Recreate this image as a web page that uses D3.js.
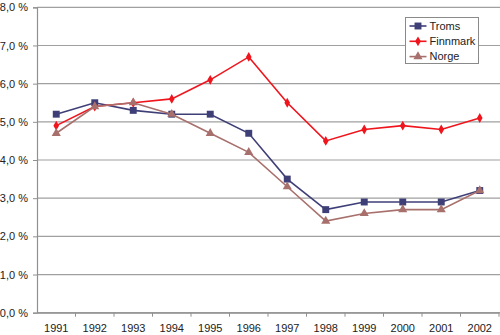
<!DOCTYPE html>
<html>
<head>
<meta charset="utf-8">
<script src="https://cdn.jsdelivr.net/npm/d3@7"></script>
<style>
  html, body { margin: 0; padding: 0; background: #fff; }
  svg { display: block; font-family: "Liberation Sans", Arial, sans-serif; }
</style>
</head>
<body>
<svg id="chart" width="500" height="335"></svg>
<script>
// Unemployment rate, 1991–2002
const years = ["1991","1992","1993","1994","1995","1996","1997","1998","1999","2000","2001","2002"];
const troms    = [5.2, 5.5, 5.3, 5.2, 5.2, 4.7, 3.5, 2.7, 2.9, 2.9, 2.9, 3.2];
const finnmark = [4.9, 5.4, 5.5, 5.6, 6.1, 6.7, 5.5, 4.5, 4.8, 4.9, 4.8, 5.1];
const norge    = [4.7, 5.4, 5.5, 5.2, 4.7, 4.2, 3.3, 2.4, 2.6, 2.7, 2.7, 3.2];
const yTicks   = [0, 1, 2, 3, 4, 5, 6, 7, 8];
const seriesNames = ["Troms", "Finnmark", "Norge"];

const series = [
  { name: seriesNames[0], values: troms,    color: "#3f3f78", symbol: d3.symbolSquare,   size: 48 },
  { name: seriesNames[1], values: finnmark, color: "#f0141c", symbol: d3.symbolDiamond,  size: 28 },
  { name: seriesNames[2], values: norge,    color: "#a8706c", symbol: d3.symbolTriangle, size: 36 }
];

const svg = d3.select("#chart");
const plot = { left: 37, right: 499, top: 7.3, bottom: 312.7 };

const x = d3.scaleBand().domain(years).range([plot.left, plot.right]);
const y = d3.scaleLinear().domain([0, 8]).range([plot.bottom, plot.top]);
const fmt = v => d3.format(".1f")(v).replace(".", ",") + " %";

// horizontal gridlines
svg.append("g")
  .selectAll("line")
  .data(yTicks)
  .join("line")
  .attr("x1", plot.left).attr("x2", plot.right + 1)
  .attr("y1", d => y(d)).attr("y2", d => y(d))
  .attr("stroke", "#a0a0a0").attr("stroke-width", 1.2);

// y axis
const yAxis = svg.append("g")
  .attr("transform", `translate(${plot.left},0)`)
  .call(d3.axisLeft(y).tickValues(yTicks).tickFormat(fmt).tickSize(4).tickPadding(5));
yAxis.select(".domain").attr("stroke", "#909090").attr("stroke-width", 1.2);
yAxis.selectAll(".tick line").attr("stroke", "#909090");
yAxis.selectAll("text").attr("font-size", 11).attr("fill", "#222")
  .attr("font-family", "Liberation Sans, Arial, sans-serif");

// x axis with ticks at category boundaries
const xAxis = svg.append("g")
  .attr("transform", `translate(0,${plot.bottom})`)
  .call(d3.axisBottom(x).tickSize(0).tickPadding(12));
xAxis.select(".domain").attr("stroke", "#909090").attr("stroke-width", 1.2);
xAxis.selectAll("text").attr("font-size", 11).attr("fill", "#222")
  .attr("font-family", "Liberation Sans, Arial, sans-serif");
svg.append("g")
  .selectAll("line")
  .data(years)
  .join("line")
  .attr("x1", d => x(d) + x.bandwidth()).attr("x2", d => x(d) + x.bandwidth())
  .attr("y1", plot.bottom).attr("y2", plot.bottom + 4)
  .attr("stroke", "#909090");

const cx = i => x(years[i]) + x.bandwidth() / 2;

// lines and markers
const line = d3.line().x((d, i) => cx(i)).y(d => y(d));
series.forEach(s => {
  svg.append("path")
    .datum(s.values)
    .attr("d", line)
    .attr("fill", "none")
    .attr("stroke", s.color)
    .attr("stroke-width", 1.6);
  svg.append("g")
    .selectAll("path")
    .data(s.values)
    .join("path")
    .attr("transform", (d, i) => `translate(${cx(i)},${y(d)})`)
    .attr("d", d3.symbol().type(s.symbol).size(s.size))
    .attr("fill", s.color);
});

// legend
const lg = svg.append("g").attr("transform", "translate(405.5,17.5)");
lg.append("rect")
  .attr("width", 73).attr("height", 46)
  .attr("fill", "#fff").attr("stroke", "#8a8a8a").attr("stroke-width", 1);
series.forEach((s, i) => {
  const yy = 8.5 + i * 15.3;
  lg.append("line").attr("x1", 4).attr("x2", 21).attr("y1", yy).attr("y2", yy)
    .attr("stroke", s.color).attr("stroke-width", 1.6);
  lg.append("path").attr("transform", `translate(12.5,${yy})`)
    .attr("d", d3.symbol().type(s.symbol).size(s.size)).attr("fill", s.color);
  lg.append("text").attr("x", 24).attr("y", yy).attr("dy", "0.35em")
    .attr("font-size", 11).attr("fill", "#222").text(s.name);
});
</script>
</body>
</html>
